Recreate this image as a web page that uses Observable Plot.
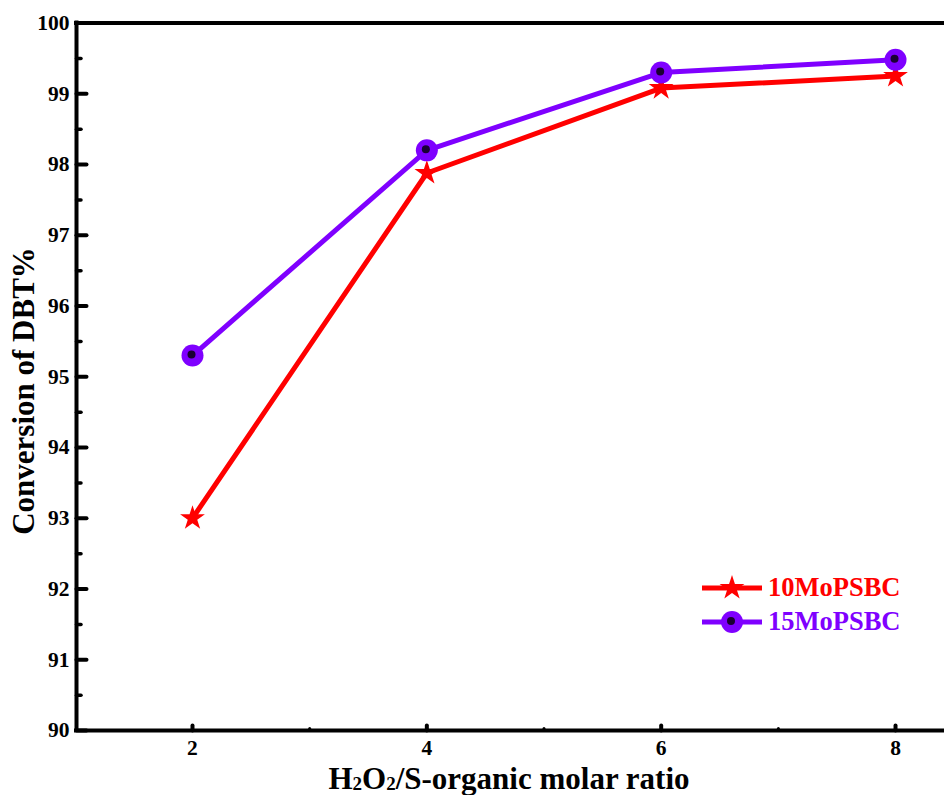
<!DOCTYPE html>
<html>
<head>
<meta charset="utf-8">
<script src="https://cdn.jsdelivr.net/npm/d3@7"></script>
<script src="https://cdn.jsdelivr.net/npm/@observablehq/plot@0.6"></script>
<style>
  html, body { margin: 0; padding: 0; background: #fff; overflow: hidden; }
  #chart { position: relative; width: 944px; height: 795px; }
</style>
</head>
<body>
<div id="chart"></div>
<script>
// ---- data ----
const ratios = [2, 4, 6, 8];
const conv10 = [93.0, 97.88, 99.08, 99.25];
const conv15 = [95.3, 98.2, 99.3, 99.48];
const seriesNames = ["10MoPSBC", "15MoPSBC"];
const seriesColors = ["#ff0000", "#7f00ff"];
const yMajor = [90, 91, 92, 93, 94, 95, 96, 97, 98, 99, 100];
const yMinor = [90.5, 91.5, 92.5, 93.5, 94.5, 95.5, 96.5, 97.5, 98.5, 99.5];
const xMajor = [2, 4, 6, 8];
const xMinor = [3, 5, 7];
const xDomain = [1.01, 8.418];
const yDomain = [90, 100];

const d10 = ratios.map((r, i) => ({x: r, y: conv10[i]}));
const d15 = ratios.map((r, i) => ({x: r, y: conv15[i]}));

const tickShape = {draw(ctx, l) { ctx.moveTo(0, 0); ctx.lineTo(0, -l); }};
const serif = "'Liberation Serif', 'Times New Roman', serif";

const plot = Plot.plot({
  width: 944,
  height: 795,
  marginLeft: 76,
  marginRight: 0,
  marginTop: 22.5,
  marginBottom: 65,
  style: {fontFamily: serif, fontWeight: "bold", background: "#fff", overflow: "hidden"},
  x: {domain: xDomain},
  y: {domain: yDomain},
  marks: [
    Plot.axisY({ticks: yMajor, tickSize: 0, tickPadding: 7, fontSize: 21.5, label: null, tickFormat: d => String(d)}),
    Plot.axisX({ticks: xMajor, tickSize: 0, tickPadding: 9, fontSize: 21.5, label: null, tickFormat: d => String(d)}),
    // inward ticks
    Plot.vector(yMajor, {y: d => d, frameAnchor: "left", length: 10, rotate: 90, anchor: "start", shape: tickShape, stroke: "black", strokeWidth: 4}),
    Plot.vector(yMinor, {y: d => d, frameAnchor: "left", length: 4.5, rotate: 90, anchor: "start", shape: tickShape, stroke: "black", strokeWidth: 3.5}),
    Plot.vector(xMajor, {x: d => d, frameAnchor: "bottom", length: 5, rotate: 0, anchor: "start", shape: tickShape, stroke: "black", strokeWidth: 4}),
    Plot.vector(xMinor, {x: d => d, frameAnchor: "bottom", length: 2, rotate: 0, anchor: "start", shape: tickShape, stroke: "black", strokeWidth: 3}),
    // frame (left, top, bottom)
    Plot.ruleX([xDomain[0]], {stroke: "black", strokeWidth: 4, strokeLinecap: "square"}),
    Plot.ruleY(yDomain, {stroke: "black", strokeWidth: 4, strokeLinecap: "square"}),
    // series
    Plot.line(d10, {x: "x", y: "y", stroke: seriesColors[0], strokeWidth: 5}),
    Plot.dot(d10, {x: "x", y: "y", symbol: "star", r: 7.8, fill: seriesColors[0], stroke: "none"}),
    Plot.line(d15, {x: "x", y: "y", stroke: seriesColors[1], strokeWidth: 5}),
    Plot.dot(d15, {x: "x", y: "y", r: 11, fill: seriesColors[1], stroke: "none"}),
    Plot.dot(d15, {x: "x", y: "y", r: 4, dx: -1, dy: -1, fill: "#1a0033", stroke: "none"})
  ]
});

document.getElementById("chart").appendChild(plot);
const svg = d3.select(plot);

// y title
svg.append("text")
  .attr("transform", "translate(34,391) rotate(-90)")
  .attr("text-anchor", "middle")
  .attr("font-family", serif).attr("font-weight", "bold").attr("font-size", 31)
  .attr("fill", "black")
  .text("Conversion of DBT%");

// x title with subscripts
const xt = svg.append("text")
  .attr("x", 509).attr("y", 789)
  .attr("text-anchor", "middle")
  .attr("font-family", serif).attr("font-weight", "bold").attr("font-size", 31)
  .attr("fill", "black");
xt.append("tspan").text("H");
xt.append("tspan").attr("font-size", 19).attr("dy", 1).text("2");
xt.append("tspan").attr("dy", -1).text("O");
xt.append("tspan").attr("font-size", 19).attr("dy", 1).text("2");
xt.append("tspan").attr("dy", -1).text("/S-organic molar ratio");

// legend
const leg = svg.append("g");
const legY = [588, 622];
seriesNames.forEach((name, i) => {
  const g = leg.append("g");
  g.append("line").attr("x1", 702).attr("x2", 762).attr("y1", legY[i]).attr("y2", legY[i])
    .attr("stroke", seriesColors[i]).attr("stroke-width", 5);
  if (i === 0) {
    g.append("path").attr("d", d3.symbol(d3.symbolStar, Math.PI * 7.8 * 7.8)())
      .attr("transform", `translate(732,${legY[i]})`).attr("fill", seriesColors[i]);
  } else {
    g.append("circle").attr("cx", 732).attr("cy", legY[i]).attr("r", 11).attr("fill", seriesColors[i]);
    g.append("circle").attr("cx", 731).attr("cy", legY[i] - 1).attr("r", 4).attr("fill", "#1a0033");
  }
  g.append("text").attr("x", 768).attr("y", legY[i] + 8)
    .attr("text-anchor", "start")
    .attr("font-family", serif).attr("font-weight", "bold").attr("font-size", 26.5)
    .attr("fill", seriesColors[i]).text(name);
});
</script>
</body>
</html>
